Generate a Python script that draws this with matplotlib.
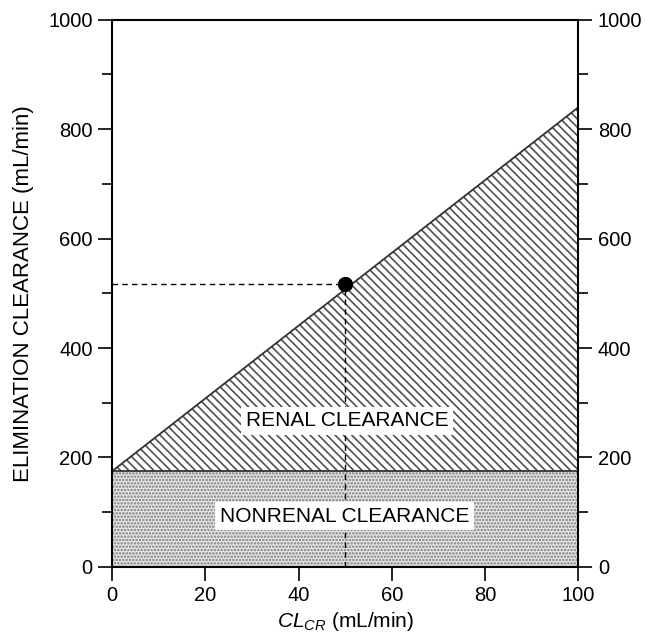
import numpy as np
import matplotlib
matplotlib.use('Agg')
import matplotlib.pyplot as plt

plt.rcParams['font.family'] = ['Liberation Sans', 'DejaVu Sans']
plt.rcParams['mathtext.fontset'] = 'custom'
plt.rcParams['mathtext.it'] = 'Liberation Sans:italic'
plt.rcParams['mathtext.rm'] = 'Liberation Sans'
plt.rcParams['hatch.linewidth'] = 1.2

# creatinine clearance (x) and total elimination clearance (y)
cl_cr = [0, 100]
nonrenal = [175, 175]
total = [175, 840]
patient_x = 50
patient_y = 517

fig = plt.figure(figsize=(6.52, 6.37), dpi=100)
ax = fig.add_axes([0.172, 0.110, 0.715, 0.859])

# nonrenal part: stippled
ax.fill_between(cl_cr, 0, nonrenal, facecolor='#e6e6e6', edgecolor='#7a7a7a',
                hatch='.....', linewidth=0, zorder=1)
# renal part: diagonal hatch
ax.fill_between(cl_cr, nonrenal, total, facecolor='white', edgecolor='#505050',
                hatch='\\\\\\\\', linewidth=0, zorder=1)
ax.plot(cl_cr, nonrenal, color='#333333', lw=1.3, zorder=2)
ax.plot(cl_cr, total, color='#333333', lw=1.3, zorder=2)

# dashed reading lines and the patient point
ax.plot([0, patient_x], [patient_y, patient_y], 'k--', lw=1, dashes=(4, 3), zorder=3)
ax.plot([patient_x, patient_x], [0, patient_y], 'k--', lw=1, dashes=(4, 3), zorder=3)
ax.plot(patient_x, patient_y, 'o', color='black', markersize=10, zorder=4)

ax.text(50.4, 267, 'RENAL CLEARANCE', ha='center', va='center', fontsize=15,
        bbox=dict(facecolor='white', edgecolor='none', pad=3.5), zorder=5)
ax.text(49.8, 93, 'NONRENAL CLEARANCE', ha='center', va='center', fontsize=15,
        bbox=dict(facecolor='white', edgecolor='none', pad=3.5), zorder=5)

ax.set_xlim(0, 100)
ax.set_ylim(0, 1000)
ax.set_xticks([0, 20, 40, 60, 80, 100])
ax.set_yticks([0, 200, 400, 600, 800, 1000])
ax.set_yticks(np.arange(100, 1000, 200), minor=True)
ax.tick_params(axis='both', which='major', direction='out', length=10, width=1.2,
               labelsize=14.5, pad=4)
ax.tick_params(axis='y', which='minor', direction='out', length=7, width=1.2)
ax.tick_params(axis='y', which='both', right=True, labelright=True)
ax.tick_params(axis='x', top=False)
for s in ax.spines.values():
    s.set_linewidth(1.5)

ax.set_xlabel(r'$\mathit{CL}_{\mathit{CR}}$ (mL/min)', fontsize=15, labelpad=3)
ax.set_ylabel('ELIMINATION CLEARANCE (mL/min)', fontsize=16, labelpad=10)

plt.savefig('out.png', dpi=100)
